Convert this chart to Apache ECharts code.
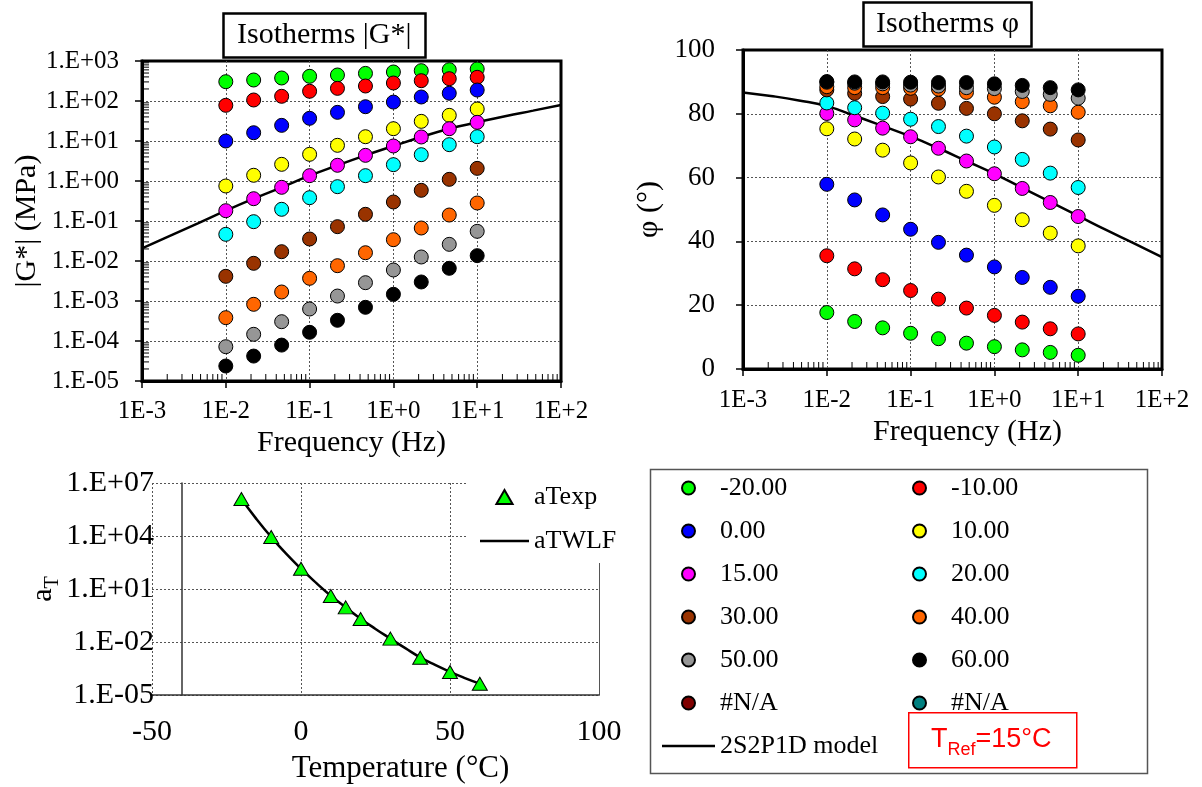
<!DOCTYPE html>
<html><head><meta charset="utf-8">
<script src="https://cdn.jsdelivr.net/npm/echarts@6/dist/echarts.min.js"></script>
<style>html,body{margin:0;padding:0;background:#fff}#c{width:1202px;height:787px}</style>
</head><body><div id="c"></div>
<script>
// ---------- data ----------
const FREQ = [0.01, 0.0215, 0.0464, 0.1, 0.215, 0.464, 1, 2.15, 4.64, 10];
const TEMP_LABELS = ['-20.00','-10.00','0.00','10.00','15.00','20.00','30.00','40.00','50.00','60.00'];
const COLORS = ['#00ff00','#ff0000','#0000ff','#ffff00','#ff00ff','#00ffff','#993300','#ff6600','#969696','#000000'];

// |G*| (MPa) per isotherm
const G_M20 = [304, 335, 376, 414, 447, 490, 531, 573, 607, 631];
const G_M10 = [78, 106, 131, 175, 207, 237, 282, 322, 361, 391];
const G_0   = [10, 16.1, 24.6, 36.9, 52, 72, 94, 126, 156, 188];
const G_10  = [0.75, 1.39, 2.61, 4.64, 7.8, 12.8, 20.3, 31, 43.8, 63];
const G_15  = [0.181, 0.361, 0.695, 1.36, 2.47, 4.38, 7.5, 12.6, 20.3, 29.3];
const G_20  = [0.0464, 0.0962, 0.196, 0.383, 0.722, 1.36, 2.56, 4.55, 8.1, 12.8];
const G_30  = [0.00414, 0.00875, 0.0171, 0.0355, 0.0722, 0.147, 0.299, 0.585, 1.1, 2.07];
const G_40  = [3.83e-4, 8.26e-4, 1.68e-3, 3.69e-3, 7.64e-3, 0.0161, 0.0341, 0.0668, 0.141, 0.282];
const G_50  = [7.2e-5, 1.47e-4, 3.04e-4, 6.3e-4, 1.33e-3, 2.87e-3, 5.96e-3, 0.0126, 0.0261, 0.0552];
const G_60  = [2.37e-5, 4.2e-5, 7.9e-5, 1.65e-4, 3.29e-4, 6.95e-4, 1.47e-3, 2.99e-3, 6.56e-3, 0.0136];

// phase angle (deg) per isotherm
const P_M20 = [17.7, 14.9, 12.9, 11.2, 9.5, 8.1, 7.0, 6.0, 5.2, 4.3];
const P_M10 = [35.5, 31.4, 28.0, 24.6, 21.9, 19.1, 16.8, 14.7, 12.6, 11.0];
const P_0   = [57.9, 53.0, 48.3, 43.8, 39.7, 35.7, 32.0, 28.7, 25.6, 22.8];
const P_10  = [75.3, 72.1, 68.6, 64.6, 60.2, 55.7, 51.3, 46.8, 42.6, 38.6];
const P_15  = [80.1, 78.1, 75.5, 72.8, 69.2, 65.2, 61.2, 56.6, 52.2, 47.8];
const P_20  = [83.4, 81.9, 80.2, 78.3, 76.0, 73.0, 69.6, 65.7, 61.4, 56.9];
const P_30  = [87.5, 86.4, 85.4, 84.6, 83.3, 81.7, 80.0, 77.8, 75.2, 71.8];
const P_40  = [88.5, 88.2, 88.2, 88.0, 87.7, 86.7, 85.2, 83.8, 82.5, 80.5];
const P_50  = [89.9, 89.6, 89.4, 89.0, 88.7, 88.2, 87.9, 87.0, 86.1, 84.9];
const P_60  = [90.1, 90.0, 90.0, 89.9, 89.8, 89.8, 89.4, 88.9, 88.2, 87.5];

// 2S2P1D model curves
const MODEL_F   = [0.001, 0.00215, 0.00464, 0.01, 0.0215, 0.0464, 0.1, 0.215, 0.464, 1, 2.15, 4.64, 10, 21.5, 46.4, 100];
const MODEL_G   = [0.0207, 0.0427, 0.0871, 0.181, 0.361, 0.695, 1.36, 2.47, 4.38, 7.5, 12.6, 20.3, 29.3, 41.7, 57.5, 79.4];
const MODEL_PHI = [86.7, 85.6, 84.2, 82.4, 79.4, 76.2, 72.9, 69.2, 65.2, 61.2, 56.8, 52.4, 48.0, 43.6, 39.4, 35.1];

// shift factors
const AT_T    = [-20, -10, 0, 10, 15, 20, 30, 40, 50, 60];
const AT_EXP  = [1.23e6, 8.71e3, 141, 3.98, 0.912, 0.200, 0.0155, 1.29e-3, 2.0e-4, 4.37e-5];
const WLF_T   = [-20, -15, -10, -5, 0, 5, 10, 15, 20, 25, 30, 35, 40, 45, 50, 55, 60];
const WLF_AT  = [1.23e6, 9.33e4, 8.71e3, 1.0e3, 141, 22.9, 4.17, 0.912, 0.209, 0.055, 0.0155, 4.47e-3, 1.35e-3, 5.0e-4, 2.04e-4, 9.1e-5, 4.37e-5];

const NA_COLORS = ['#800000', '#008080'];
const MINOR_MULT = [2, 3, 4, 5, 6, 7, 8, 9];

const G_SETS = [G_M20, G_M10, G_0, G_10, G_15, G_20, G_30, G_40, G_50, G_60];
const P_SETS = [P_M20, P_M10, P_0, P_10, P_15, P_20, P_30, P_40, P_50, P_60];

// ---------- helpers ----------
const SERIF = '"Liberation Serif", "Times New Roman", serif';
const zip = (xs, ys) => xs.map((x, i) => [x, ys[i]]);
const expOf = v => Math.round(Math.log10(v));
const fmtExp = e => '1.E' + (e < 0 ? '-' : '+') + String(Math.abs(e)).padStart(2, '0');
const fmtX = v => { const e = expOf(v); return '1E' + (e >= 0 ? '+' : '') + e; };
const fmtY = v => fmtExp(expOf(v));
function minorValues(e0, e1) {
  const out = [];
  for (let e = e0; e < e1; e++) for (const m of MINOR_MULT) out.push(m * Math.pow(10, e));
  return out;
}
function tickSeries(xi, yi, axis, fixed, values) {
  return {
    type: 'custom', name: '_ticks' + xi + axis, xAxisIndex: xi, yAxisIndex: yi, silent: true, clip: false, z: 5,
    data: values.map(v => axis === 'x' ? [v, fixed] : [fixed, v]),
    renderItem(params, api) {
      const p = api.coord([api.value(0), api.value(1)]);
      const shape = axis === 'x'
        ? { x1: p[0], y1: p[1], x2: p[0], y2: p[1] - 7 }
        : { x1: p[0], y1: p[1], x2: p[0] + 7, y2: p[1] };
      return { type: 'line', shape, style: { stroke: '#000', lineWidth: 1 } };
    }
  };
}
const dotted = { show: true, lineStyle: { type: [2, 2], color: '#555', width: 1 } };
const lbl = (size, margin, formatter) => ({ fontFamily: SERIF, fontSize: size, color: '#000', margin, formatter });
const nameStyle = (extra) => Object.assign({ fontFamily: SERIF, fontSize: 30, color: '#000' }, extra || {});
const dotStyle = c => ({ color: c, borderColor: '#000', borderWidth: 1, opacity: 1 });

// ---------- series ----------
const series = [];
series.push({ type: 'line', name: '2S2P1D model', xAxisIndex: 0, yAxisIndex: 0, data: zip(MODEL_F, MODEL_G),
  smooth: true, symbol: 'none', z: 1, lineStyle: { color: '#000', width: 2.5 }, itemStyle: { color: '#000' } });
G_SETS.forEach((arr, i) => series.push({
  type: 'scatter', name: TEMP_LABELS[i], xAxisIndex: 0, yAxisIndex: 0, data: zip(FREQ, arr),
  symbol: 'circle', symbolSize: 14, itemStyle: dotStyle(COLORS[i])
}));
series.push({ type: 'line', name: '2S2P1D model', xAxisIndex: 1, yAxisIndex: 1, data: zip(MODEL_F, MODEL_PHI),
  smooth: true, symbol: 'none', z: 1, lineStyle: { color: '#000', width: 2.5 }, itemStyle: { color: '#000' } });
P_SETS.forEach((arr, i) => series.push({
  type: 'scatter', name: TEMP_LABELS[i], xAxisIndex: 1, yAxisIndex: 1, data: zip(FREQ, arr),
  symbol: 'circle', symbolSize: 14, itemStyle: dotStyle(COLORS[i])
}));
['#N/A', '#N/A '].forEach((n, i) => series.push({
  type: 'scatter', name: n, xAxisIndex: 0, yAxisIndex: 0, data: [],
  symbol: 'circle', symbolSize: 14, itemStyle: dotStyle(NA_COLORS[i])
}));
series.push({ type: 'line', name: 'aTWLF', xAxisIndex: 2, yAxisIndex: 3, data: zip(WLF_T, WLF_AT),
  smooth: true, symbol: 'none', z: 1, lineStyle: { color: '#000', width: 2.5 }, itemStyle: { color: '#000' } });
series.push({ type: 'scatter', name: 'aTexp', xAxisIndex: 2, yAxisIndex: 3, data: zip(AT_T, AT_EXP),
  symbol: 'triangle', symbolSize: [15, 13], itemStyle: dotStyle('#00ff00') });
series.push(tickSeries(0, 0, 'x', 1e-5, minorValues(-3, 2)));
series.push(tickSeries(0, 0, 'y', 1e-3, minorValues(-5, 3)));
series.push(tickSeries(1, 1, 'x', 0, minorValues(-3, 2)));

const legendText = { fontFamily: SERIF, fontSize: 26, color: '#000' };

// ---------- option ----------
const option = {
  animation: false,
  backgroundColor: '#fff',
  title: [
    { text: 'Isotherms |G*|', left: 223, top: 13, padding: [7, 14], borderColor: '#000', borderWidth: 2.5,
      textStyle: { fontFamily: SERIF, fontSize: 30, fontWeight: 'normal', color: '#000', lineHeight: 31 } },
    { text: 'Isotherms φ', left: 863, top: 2, padding: [7, 13], borderColor: '#000', borderWidth: 2.5,
      textStyle: { fontFamily: SERIF, fontSize: 30, fontWeight: 'normal', color: '#000', lineHeight: 31 } }
  ],
  grid: [
    { left: 142, top: 61, width: 419, height: 320, show: true, borderColor: '#000', borderWidth: 3, backgroundColor: 'transparent' },
    { left: 743, top: 50, width: 419, height: 319, show: true, borderColor: '#000', borderWidth: 3, backgroundColor: 'transparent' },
    { left: 152, top: 483, width: 447, height: 212, show: false }
  ],
  xAxis: [
    { gridIndex: 0, type: 'log', logBase: 10, min: 1e-3, max: 1e2,
      axisLine: { show: true, onZero: false, lineStyle: { color: '#000', width: 3 } },
      axisTick: { show: true, length: 7, lineStyle: { color: '#000', width: 1.5 } },
      axisLabel: lbl(25, 18, fmtX), splitLine: Object.assign({ showMinLine: false, showMaxLine: false }, dotted),
      name: 'Frequency (Hz)', nameLocation: 'middle', nameGap: 47, nameTextStyle: nameStyle() },
    { gridIndex: 1, type: 'log', logBase: 10, min: 1e-3, max: 1e2,
      axisLine: { show: true, onZero: false, lineStyle: { color: '#000', width: 3 } },
      axisTick: { show: true, length: 7, lineStyle: { color: '#000', width: 1.5 } },
      axisLabel: lbl(25, 19, fmtX), splitLine: Object.assign({ showMinLine: false, showMaxLine: false }, dotted),
      name: 'Frequency (Hz)', nameLocation: 'middle', nameGap: 48, nameTextStyle: nameStyle({ padding: [0, 0, 0, 30] }) },
    { gridIndex: 2, type: 'value', min: -50, max: 100, interval: 50,
      axisLine: { show: true, onZero: false, lineStyle: { color: '#333', width: 1.5 } },
      axisTick: { show: false },
      axisLabel: lbl(30, 22), splitLine: dotted,
      name: 'Temperature (°C)', nameLocation: 'middle', nameGap: 58, nameTextStyle: nameStyle({ fontSize: 31, padding: [0, 0, 0, 50] }) }
  ],
  yAxis: [
    { gridIndex: 0, type: 'log', logBase: 10, min: 1e-5, max: 1e3,
      axisLine: { show: true, onZero: false, lineStyle: { color: '#000', width: 3 } },
      axisTick: { show: true, length: 7, lineStyle: { color: '#000', width: 1.5 } },
      axisLabel: lbl(25, 23, fmtY), splitLine: Object.assign({ showMinLine: false, showMaxLine: false }, dotted),
      name: '|G*| (MPa)', nameLocation: 'middle', nameGap: 100, nameTextStyle: nameStyle() },
    { gridIndex: 1, type: 'value', min: 0, max: 100, interval: 20,
      axisLine: { show: true, onZero: false, lineStyle: { color: '#000', width: 3 } },
      axisTick: { show: true, length: 7, lineStyle: { color: '#000', width: 1.5 } },
      axisLabel: lbl(27, 28), splitLine: Object.assign({ showMinLine: false, showMaxLine: false }, dotted),
      name: 'φ (°)', nameLocation: 'middle', nameGap: 79, nameTextStyle: nameStyle() },
    { gridIndex: 2, type: 'value', min: -5, max: 7, interval: 3, offset: -30, position: 'left',
      axisLine: { show: true, onZero: false, lineStyle: { color: '#333', width: 1.5 } },
      axisTick: { show: false },
      axisLabel: lbl(30, 28, fmtExp), splitLine: dotted,
      name: '{a|a}{t|T}', nameLocation: 'middle', nameGap: 122,
      nameTextStyle: { rich: {
        a: { fontFamily: SERIF, fontSize: 30, lineHeight: 30, color: '#000', verticalAlign: 'top' },
        t: { fontFamily: SERIF, fontSize: 20, lineHeight: 20, color: '#000', verticalAlign: 'top', padding: [14, 0, 0, 0] } } } },
    { gridIndex: 2, type: 'log', logBase: 10, min: 1e-5, max: 1e7, position: 'right',
      axisLine: { show: true, onZero: false, lineStyle: { color: '#555', width: 1 } },
      axisTick: { show: false }, axisLabel: { show: false }, splitLine: { show: false } }
  ],
  legend: [
    { data: [ { name: 'aTexp', icon: 'path://M7.5,0L15,13H0Z' },
              { name: 'aTWLF', icon: 'path://M0,0H49V2.5H0Z' } ],
      orient: 'vertical', left: 466, top: 476, itemWidth: 49, itemHeight: 14, itemGap: 18, symbolKeepAspect: true,
      padding: [8, 10, 9, 14], backgroundColor: '#fff', selectedMode: false, textStyle: legendText },
    { data: ['-20.00', '0.00', '15.00', '30.00', '50.00', '#N/A', { name: '2S2P1D model', icon: 'path://M0,0H53V2.5H0Z' }],
      orient: 'vertical', left: 662, top: 475, itemWidth: 53, itemHeight: 13, itemGap: 17, padding: 0, symbolKeepAspect: true,
      selectedMode: false, textStyle: legendText },
    { data: ['-10.00', '10.00', '20.00', '40.00', '60.00', '#N/A '], orient: 'vertical',
      left: 912, top: 475, itemWidth: 53, itemHeight: 13, itemGap: 17, padding: 0, symbolKeepAspect: true,
      selectedMode: false, textStyle: legendText }
  ],
  graphic: [
    { type: 'rect', left: 648, top: 467, z: 0, shape: { width: 497, height: 304 }, style: { fill: 'none', stroke: '#555', lineWidth: 1.5 } },
    { type: 'rect', left: 908, top: 712, z: 100, shape: { width: 168, height: 55 }, style: { fill: '#fff', stroke: '#ff0000', lineWidth: 1.5 } },
    { type: 'text', x: 931, y: 740, z: 101, style: { text: 'T', fill: '#ff0000', font: '27px "Liberation Sans", Arial, sans-serif', verticalAlign: 'middle' } },
    { type: 'text', x: 947.5, y: 750, z: 101, style: { text: 'Ref', fill: '#ff0000', font: '18px "Liberation Sans", Arial, sans-serif', verticalAlign: 'middle' } },
    { type: 'text', x: 975.5, y: 740, z: 101, style: { text: '=15°C', fill: '#ff0000', font: '27px "Liberation Sans", Arial, sans-serif', verticalAlign: 'middle' } }
  ],
  series
};
const chart = echarts.init(document.getElementById('c'), null, { renderer: 'canvas' });
chart.setOption(option);
</script>
</body></html>
